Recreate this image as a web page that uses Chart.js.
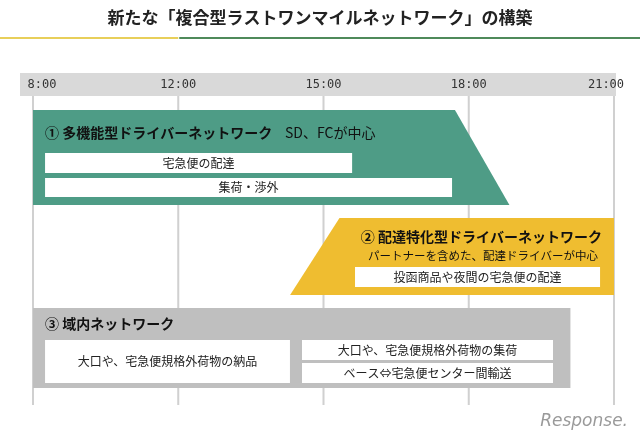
<!DOCTYPE html>
<html><head><meta charset="utf-8">
<script src="https://cdn.jsdelivr.net/npm/chart.js@4"></script>
<style>html,body{margin:0;padding:0;background:#fff}#w{width:640px;height:443px}</style>
</head><body><div id="w"><canvas id="c"></canvas></div>
<script>
const timeLabels = ["8:00","12:00","15:00","18:00","21:00"];
// shapes: x in time-slot units (0 = 8:00 ... 4 = 21:00), y in row units (px-like rows)
const greenShape = [[0,110],[2.905,110],[3.28,205],[0,205]];
const yellowShape = [[2.11,218],[4,218],[4,295],[1.77,295]];
const grayShape = [[0,308],[3.70,308],[3.70,388],[0,388]];
const boxes = [
  {x:[0.083,2.197], y:[153,173], t:"宅急便の配達"},
  {x:[0.083,2.885], y:[178,197], t:"集荷・渉外"},
  {x:[2.217,3.904], y:[267,287], t:"投函商品や夜間の宅急便の配達"},
  {x:[0.083,1.769], y:[340,383], t:"大口や、宅急便規格外荷物の納品"},
  {x:[1.852,3.580], y:[340,360], t:"大口や、宅急便規格外荷物の集荷"},
  {x:[1.852,3.580], y:[363,383], t:"ベース⇔宅急便センター間輸送"}
];
const F = '"Noto Sans CJK JP", sans-serif';
const draw = {
  id:'draw',
  beforeDatasetsDraw(ch){
    const c = ch.ctx, X = ch.scales.x, Y = ch.scales.y;
    const px = v => X.getPixelForValue(v), py = v => Y.getPixelForValue(v);
    c.save();
    // title
    c.fillStyle='#222'; c.font='bold 17px '+F; c.textAlign='center'; c.textBaseline='middle';
    c.fillText("新たな「複合型ラストワンマイルネットワーク」の構築", 320, 18);
    c.fillStyle='#e8cf5a'; c.fillRect(0,37,px(1),2);
    c.fillStyle='#4f8a5a'; c.fillRect(px(1)+1,37,640-px(1),2);
    // header bar
    c.fillStyle='#d9d9d9'; c.fillRect(20,73,596,23);
    c.fillStyle='#333'; c.font='12px "DejaVu Sans Mono", monospace';
    timeLabels.forEach((l,i)=>{
      let x = px(i); if(i===0) x+=9; if(i===4) x-=8;
      c.fillText(l, x, 85);
      c.fillStyle='#d0d0d0'; c.fillRect(x - (i===0?9:i===4?-8:0) - 1, 96, 2, 309); c.fillStyle='#333';
    });
    const poly=(pts,col)=>{c.beginPath();pts.forEach((p,i)=>{const a=px(p[0]),b=py(p[1]);i?c.lineTo(a,b):c.moveTo(a,b);});c.closePath();c.fillStyle=col;c.fill();};
    poly(greenShape,'#4e9c86'); poly(yellowShape,'#efbd30'); poly(grayShape,'#bfbfbf');
    boxes.forEach(b=>{
      const x0=px(b.x[0]),x1=px(b.x[1]),y0=py(b.y[0]),y1=py(b.y[1]);
      c.fillStyle='#fff'; c.fillRect(x0,y0,x1-x0,y1-y0);
      c.fillStyle='#222'; c.font='12px '+F; c.textAlign='center';
      c.fillText(b.t,(x0+x1)/2,(y0+y1)/2);
    });
    c.textAlign='left'; c.fillStyle='#111'; c.font='bold 14px '+F;
    c.fillText("① 多機能型ドライバーネットワーク", 45, 133);
    c.font='14px '+F; c.fillText("SD、FCが中心", 285, 133);
    c.textAlign='right'; c.font='bold 14px '+F;
    c.fillText("② 配達特化型ドライバーネットワーク", 602, 237);
    c.font='11.5px '+F; c.fillText("パートナーを含めた、配達ドライバーが中心", 598, 256);
    c.textAlign='left'; c.font='bold 14px '+F;
    c.fillText("③ 域内ネットワーク", 45, 324);
    c.textAlign='right'; c.fillStyle='#9a9a9a'; c.font='italic 17px "DejaVu Sans", sans-serif';
    c.fillText("Response.", 628, 422);
    c.restore();
  }
};
new Chart(document.getElementById('c'),{
  type:'scatter',
  data:{datasets:[{data:[],pointRadius:0}]},
  options:{responsive:true,maintainAspectRatio:false,animation:false,
    layout:{padding:0},
    plugins:{legend:{display:false},tooltip:{enabled:false}},
    scales:{
      x:{type:'linear',min:-33/145.25,max:(640-33)/145.25,display:false},
      y:{type:'linear',min:0,max:443,reverse:true,display:false}
    }},
  plugins:[draw]
});
</script></body></html>
